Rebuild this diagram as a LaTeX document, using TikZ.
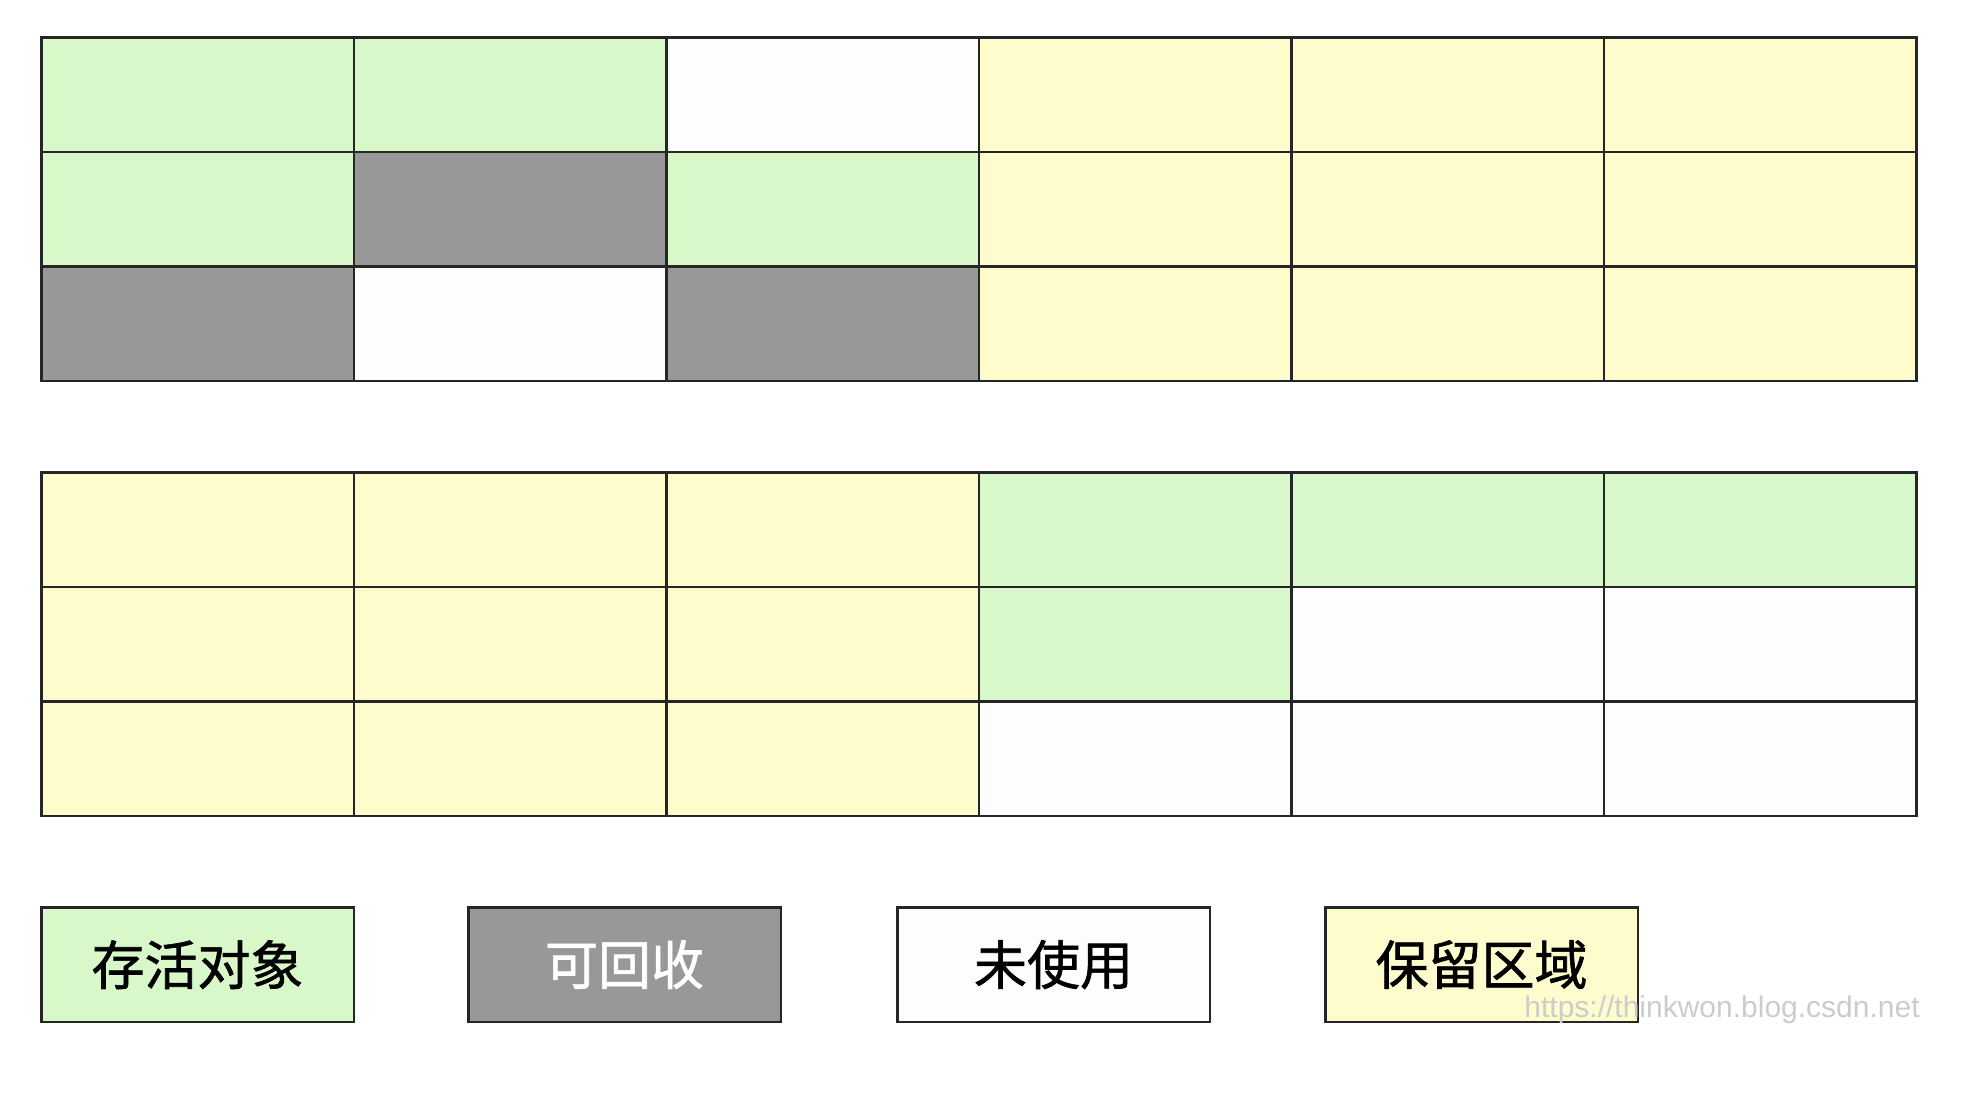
\documentclass[tikz,border=0pt]{standalone}
\usepackage{fontspec}
\setmainfont{Liberation Sans}
\newfontfamily\cjk[FakeBold=1.2]{Noto Sans CJK SC}
\definecolor{live}{HTML}{D8F8C9}
\definecolor{reclaim}{HTML}{989898}
\definecolor{reserved}{HTML}{FEFCCC}
\definecolor{unused}{HTML}{FDFDFD}
\begin{document}
\begin{tikzpicture}[x=1pt,y=-1pt,
  cell/.style={draw=black!85, line width=2.5pt, minimum width=312.5pt, minimum height=114.6pt, inner sep=0pt, anchor=north west},
  legendbox/.style={cell, font=\cjk\fontsize{53}{62}\selectfont},
  wmark/.style={text=black!20, font=\fontsize{30}{36}\selectfont, inner sep=0pt}]
\fill[white] (0,0) rectangle (1964,1106);
\useasboundingbox (0,0) rectangle (1964,1106);
% top grid
\foreach \r/\c/\col in {1/1/live,1/2/live,1/3/unused,1/4/reserved,1/5/reserved,1/6/reserved,
                        2/1/live,2/2/reclaim,2/3/live,2/4/reserved,2/5/reserved,2/6/reserved,
                        3/1/reclaim,3/2/unused,3/3/reclaim,3/4/reserved,3/5/reserved,3/6/reserved}
  \node[cell, fill=\col] (t\r\c) at ({40+(\c-1)*312.5},{36+(\r-1)*114.6}) {};
% bottom grid
\foreach \r/\c/\col in {1/1/reserved,1/2/reserved,1/3/reserved,1/4/live,1/5/live,1/6/live,
                        2/1/reserved,2/2/reserved,2/3/reserved,2/4/live,2/5/unused,2/6/unused,
                        3/1/reserved,3/2/reserved,3/3/reserved,3/4/unused,3/5/unused,3/6/unused}
  \node[cell, fill=\col] (b\r\c) at ({40+(\c-1)*312.5},{471+(\r-1)*114.6}) {};
% legend
\node[legendbox, fill=live] (l1) at (40,906) {存活对象};
\node[legendbox, fill=reclaim, text=white] (l2) at (467,906) {可回收};
\node[legendbox, fill=unused] (l3) at (896,906) {未使用};
\node[legendbox, fill=reserved] (l4) at (1324,906) {保留区域};
% watermark
\node[wmark] (wm) at (1722,1010) {https://thinkwon.blog.csdn.net};
\end{tikzpicture}
\end{document}
